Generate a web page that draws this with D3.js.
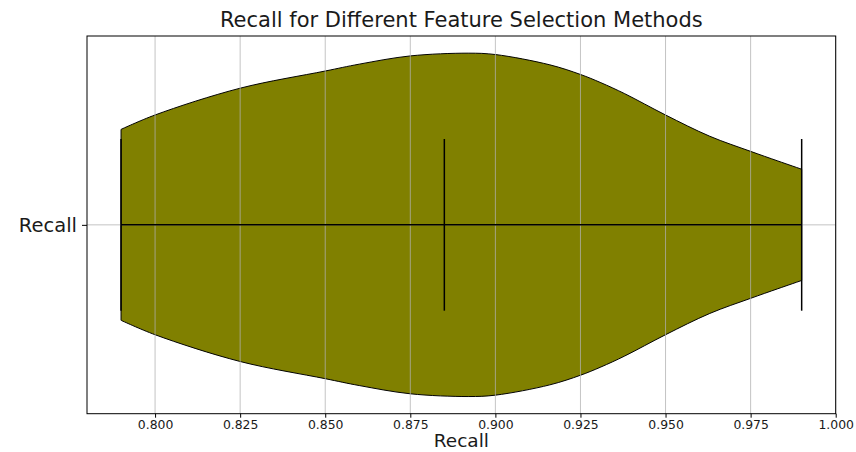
<!DOCTYPE html>
<html>
<head>
<meta charset="utf-8">
<script src="https://cdn.jsdelivr.net/npm/d3@7"></script>
<style>
  body { margin: 0; background: #fff; }
  text { font-family: "DejaVu Sans", sans-serif; fill: #1a1a1a; }
</style>
</head>
<body>
<svg id="chart"></svg>
<script>
// values
const categories = ['Recall'];
const recallMin = 0.79;
const recallMax = 0.99;
const recallMedian = 0.885;
// violin outline: recall value and half-width (in category units, max = 0.25)
const densityX = [0.79, 0.80, 0.825, 0.85, 0.86, 0.875, 0.892, 0.90, 0.916, 0.925, 0.931, 0.938, 0.95, 0.963, 0.975, 0.983, 0.99];
const densityHalfWidth = [0.139, 0.160, 0.199, 0.224, 0.234, 0.246, 0.250, 0.248, 0.233, 0.219, 0.207, 0.191, 0.160, 0.129, 0.107, 0.093, 0.081];
const xTicks = [0.800, 0.825, 0.850, 0.875, 0.900, 0.925, 0.950, 0.975, 1.000];

const width = 856, height = 452;
const margin = { top: 36, right: 20.3, bottom: 38.3, left: 87 };
const innerW = width - margin.left - margin.right;
const innerH = height - margin.top - margin.bottom;

const svg = d3.select('#chart').attr('width', width).attr('height', height);
const g = svg.append('g').attr('transform', `translate(${margin.left},${margin.top})`);

const x = d3.scaleLinear().domain([0.78, 1.0]).range([0, innerW]);
const y = d3.scaleLinear().domain([0.725, 1.275]).range([innerH, 0]);
const pos = 1;

const pts = densityX.map((v, i) => ({ v, w: densityHalfWidth[i] }));

// violin body
const area = d3.area()
    .x(d => x(d.v))
    .y0(d => y(pos - d.w))
    .y1(d => y(pos + d.w))
    .curve(d3.curveCatmullRom.alpha(0.5));

g.append('path')
    .datum(pts)
    .attr('d', area)
    .attr('fill', '#808000')
    .attr('stroke', '#000')
    .attr('stroke-width', 1);

// grid (drawn over the patch like matplotlib)
g.selectAll('.vgrid')
    .data(xTicks)
    .join('line')
    .attr('class', 'vgrid')
    .attr('x1', d => x(d)).attr('x2', d => x(d))
    .attr('y1', 0).attr('y2', innerH)
    .attr('stroke', '#b0b0b0')
    .attr('stroke-opacity', 0.75)
    .attr('stroke-width', 1);

g.append('line')
    .attr('x1', 0).attr('x2', innerW)
    .attr('y1', y(pos)).attr('y2', y(pos))
    .attr('stroke', '#b0b0b0')
    .attr('stroke-opacity', 0.75)
    .attr('stroke-width', 1);

// min / max / median bars and the range line
g.append('line')
    .attr('x1', x(recallMin)).attr('x2', x(recallMax))
    .attr('y1', y(pos)).attr('y2', y(pos))
    .attr('stroke', '#000').attr('stroke-width', 1.5);

g.selectAll('.cap')
    .data([recallMin, recallMedian, recallMax])
    .join('line')
    .attr('class', 'cap')
    .attr('x1', d => x(d)).attr('x2', d => x(d))
    .attr('y1', y(pos - 0.125)).attr('y2', y(pos + 0.125))
    .attr('stroke', '#000').attr('stroke-width', 1.5);

// frame
g.append('rect')
    .attr('width', innerW).attr('height', innerH)
    .attr('fill', 'none').attr('stroke', '#000').attr('stroke-width', 1);

// x axis
const xAxis = d3.axisBottom(x).tickValues(xTicks).tickFormat(d3.format('.3f')).tickSize(4).tickPadding(3);
const gx = g.append('g').attr('transform', `translate(0,${innerH})`).call(xAxis);
gx.select('.domain').remove();
gx.selectAll('text').style('font-size', '12.4px').style('font-family', '"DejaVu Sans", sans-serif').attr('fill', '#1a1a1a');

// y axis
const yAxis = d3.axisLeft(y).tickValues([pos]).tickFormat((d, i) => categories[i]).tickSize(5).tickPadding(5);
const gy = g.append('g').call(yAxis);
gy.select('.domain').remove();
gy.selectAll('text').style('font-size', '19.5px').style('font-family', '"DejaVu Sans", sans-serif').attr('fill', '#1a1a1a');

// labels
svg.append('text')
    .attr('x', margin.left + innerW / 2).attr('y', 27)
    .attr('text-anchor', 'middle')
    .style('font-size', '21px')
    .text('Recall for Different Feature Selection Methods');

svg.append('text')
    .attr('x', margin.left + innerW / 2).attr('y', 447)
    .attr('text-anchor', 'middle')
    .style('font-size', '18.5px')
    .text('Recall');
</script>
</body>
</html>
